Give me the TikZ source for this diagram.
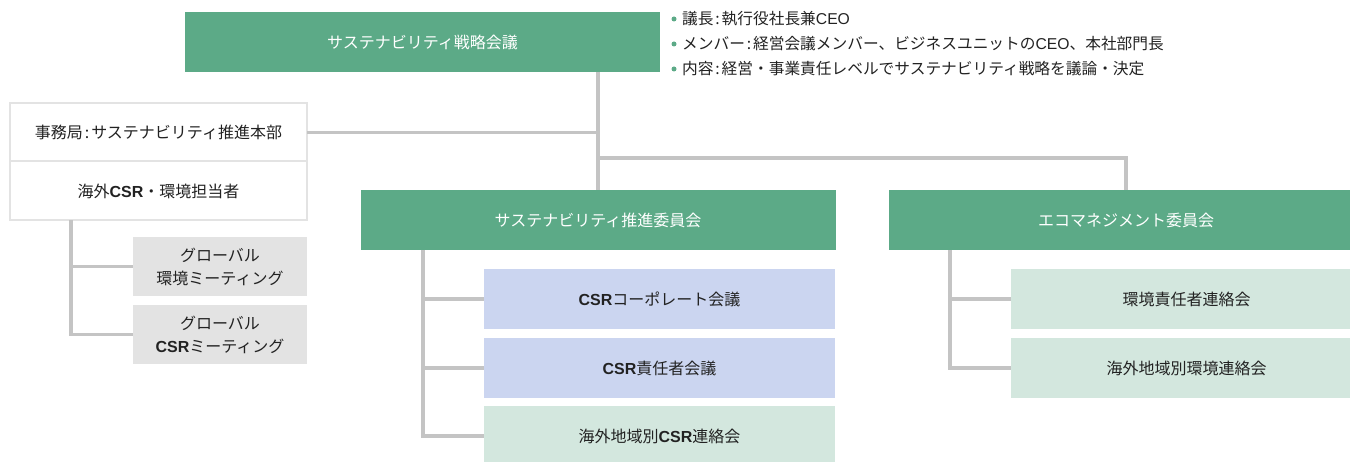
\documentclass[tikz,border=0pt]{standalone}
\usepackage{fontspec}
\setmainfont{Noto Sans CJK JP}
\newfontfamily\lat{Liberation Sans}
\newcommand{\csr}{{\lat\bfseries CSR}}
\newcommand{\ceo}{{\lat CEO}}
\newcommand{\jc}{\hspace{0.12em}:\hspace{0.12em}}
\definecolor{mgreen}{HTML}{5CAA87}
\definecolor{lgreen}{HTML}{D3E7DE}
\definecolor{lblue}{HTML}{CBD5F0}
\definecolor{lgray}{HTML}{E3E3E3}
\definecolor{conncol}{HTML}{C4C4C4}
\definecolor{bordcol}{HTML}{E3E3E3}
\definecolor{txt}{HTML}{222222}
\tikzset{
  box/.style={inner sep=0pt, outer sep=0pt, align=center, font=\fontsize{16}{23}\selectfont, text=txt},
  greenbox/.style={box, fill=mgreen, text=white, minimum width=475pt, minimum height=60pt},
  bluebox/.style={box, fill=lblue, minimum width=351pt, minimum height=60pt},
  lgbox/.style={box, fill=lgreen, minimum width=351pt, minimum height=60pt},
  graybox/.style={box, fill=lgray, minimum width=174pt, minimum height=59pt},
  whitebox/.style={box, fill=white, draw=bordcol, line width=2pt, minimum width=297pt, minimum height=59pt},
  conn/.style={draw=conncol, line width=3.5pt},
  bullet/.style={circle, fill=mgreen, inner sep=0pt, minimum size=5pt},
  btext/.style={anchor=west, inner sep=0pt, font=\fontsize{15.7}{18}\selectfont, text=txt}
}
\begin{document}
\begin{tikzpicture}[x=1pt, y=-1pt]
\useasboundingbox (0,0) rectangle (1350,462);
\clip (0,0) rectangle (1350,462);
% main nodes
\node[greenbox] (top) at (422.5,42) {サステナビリティ戦略会議};
\node[greenbox] (sp) at (598,220) {サステナビリティ推進委員会};
\node[greenbox] (eco) at (1126,220) {エコマネジメント委員会};
\node[whitebox] (hq1) at (158.5,132.5) {事務局\jc サステナビリティ推進本部};
\node[whitebox] (hq2) at (158.5,191) {海外\csr・環境担当者};
\node[graybox] (g1) at (220,266.5) {グローバル\\環境ミーティング};
\node[graybox] (g2) at (220,334.5) {グローバル\\\csr ミーティング};
\node[bluebox] (c1) at (659.5,299) {\csr コーポレート会議};
\node[bluebox] (c2) at (659.5,368) {\csr 責任者会議};
\node[lgbox] (c3) at (659.5,436) {海外地域別\csr 連絡会};
\node[lgbox] (e1) at (1186.5,299) {環境責任者連絡会};
\node[lgbox] (e2) at (1186.5,368) {海外地域別環境連絡会};
% bullets
\node[bullet] (b1) at (674,19) {};
\node[bullet] (b2) at (674,44) {};
\node[bullet] (b3) at (674,69) {};
\node[btext] (t1) at (682,19) {議長\jc 執行役社長兼\ceo};
\node[btext] (t2) at (682,44) {メンバー\jc 経営会議メンバー、ビジネスユニットの\ceo、本社部門長};
\node[btext] (t3) at (682,69) {内容\jc 経営・事業責任レベルでサステナビリティ戦略を議論・決定};
% connector coordinates
\coordinate (jn) at (598,158);
\coordinate (lx) at (71,0);
\coordinate (sx) at (423,0);
\coordinate (ex) at (950,0);
% connectors
\draw[conn] (top.south -| sp.north) -- (sp.north);
\draw[conn] (hq1.east) -- (hq1.east -| sp.north);
\draw[conn] (jn) -| (eco.north);
\draw[conn] (hq2.south -| lx) |- (g2.west);
\draw[conn] (g1.west -| lx) -- (g1.west);
\draw[conn] (sp.south -| sx) |- (c3.west);
\draw[conn] (c1.west -| sx) -- (c1.west);
\draw[conn] (c2.west -| sx) -- (c2.west);
\draw[conn] (eco.south -| ex) |- (e2.west);
\draw[conn] (e1.west -| ex) -- (e1.west);
\end{tikzpicture}
\end{document}
